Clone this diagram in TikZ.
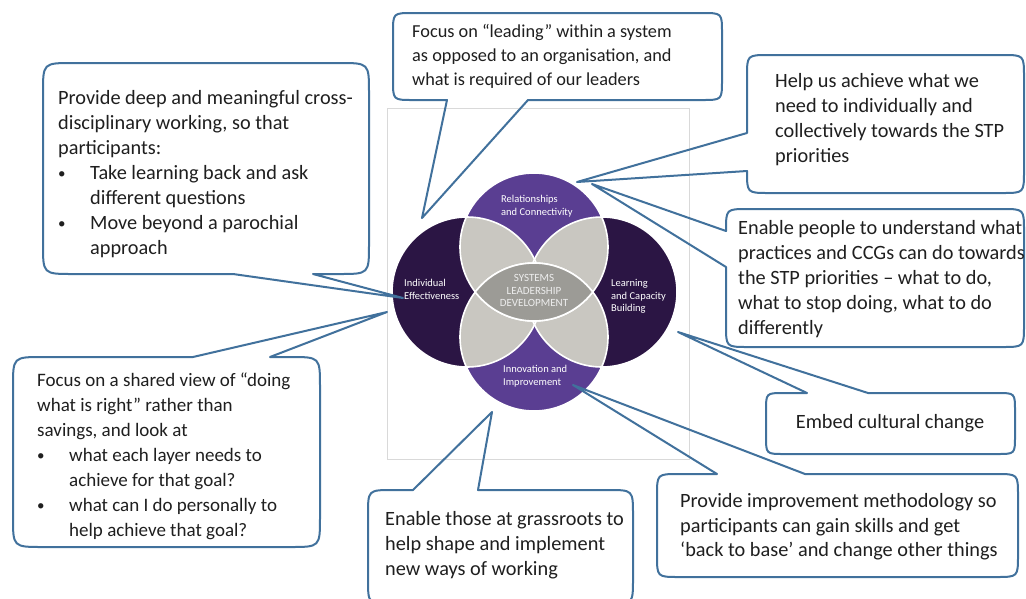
\documentclass[tikz,border=0pt]{standalone}
\usepackage{fontspec}
\setmainfont{Carlito}
\definecolor{cborder}{HTML}{41719C}
\definecolor{framec}{HTML}{D9D9D9}
\definecolor{darkp}{HTML}{2B1544}
\definecolor{purp}{HTML}{5A3E92}
\definecolor{petal}{HTML}{C9C7C1}
\definecolor{lensc}{HTML}{9C9B96}
\definecolor{txtc}{HTML}{1F1F1F}
\definecolor{lenstxt}{HTML}{EDEDED}
\tikzset{
  callout/.style={draw=cborder, line width=2pt, line join=round},
  txt/.style={anchor=north west, inner sep=0pt, align=left, text=txtc,
    font=\fontsize{20.3}{25}\selectfont},
  ctxt/.style={anchor=north west, inner sep=0pt, align=left, text=white,
    font=\fontsize{10.5}{12.5}\selectfont},
  outline/.style={draw=white, line width=1.6pt},
}
\newcommand{\bul}{\makebox[32pt][l]{\raisebox{1pt}{\fontsize{15}{15}\selectfont\textbullet}}}
\newcommand{\ind}{\hspace*{32pt}}
\begin{document}
\begin{tikzpicture}[x=1pt,y=-1pt]
\useasboundingbox (0,0) rectangle (1026,598);
\fill[white] (0,0) rectangle (1026,598);
\clip (0,0) rectangle (1026,598);

% frame of the diagram
\draw[framec, line width=1pt] (387,108) rectangle (689,459);

% circles
\def\CL{(467,292) circle[radius=75]}
\def\CR{(602,292) circle[radius=75]}
\def\CT{(534,247) circle[radius=74]}
\def\CB{(534,337) circle[radius=74]}
\fill[darkp] \CL;
\fill[darkp] \CR;
\fill[purp] \CT;
\fill[purp] \CB;
\begin{scope}\clip \CT; \fill[petal] \CL; \fill[petal] \CR; \end{scope}
\begin{scope}\clip \CB; \fill[petal] \CL; \fill[petal] \CR; \end{scope}
\draw[outline] \CL; \draw[outline] \CR; \draw[outline] \CT; \draw[outline] \CB;
\begin{scope}\clip \CT; \fill[lensc] \CB; \draw[outline] \CB; \end{scope}
\begin{scope}\clip \CB; \draw[outline] \CT; \end{scope}

% circle labels
\node[ctxt] (rel) at (501,193.6) {\strut Relationships\\and Connectivity};
\node[ctxt] (ind) at (404,277.6) {\strut Individual\\Effectiveness};
\node[ctxt] (lea) at (611,277.6) {\strut Learning\\and Capacity\\Building};
\node[ctxt] (inn) at (503,363.6) {\strut Innovation and\\Improvement};
\node[ctxt, anchor=north, align=center, text=lenstxt, font=\fontsize{11}{12.5}\selectfont] (sld) at (534,272.6)
  {\strut SYSTEMS\\LEADERSHIP\\DEVELOPMENT};

% tail tips
\coordinate (tA) at (403,298);
\coordinate (tB) at (422,218);
\coordinate (tC) at (577,182);
\coordinate (tD) at (592,184);
\coordinate (tE) at (678,332);
\coordinate (tF) at (387,312);
\coordinate (tG) at (492,412);
\coordinate (tH) at (573,385);

% callouts
\draw[callout] (73,63) -- (339,63) .. controls (369,63) .. (369,93) -- (369,244)
  .. controls (369,274) .. (339,274) -- (313,274) -- (tA) -- (233,274) -- (73,274)
  .. controls (43,274) .. (43,244) -- (43,93) .. controls (43,63) .. (73,63) -- cycle;
\draw[callout] (413,13) -- (702,13) .. controls (722,13) .. (722,33) -- (722,80)
  .. controls (722,100) .. (702,100) -- (528,100) -- (tB) -- (447,100) -- (413,100)
  .. controls (393,100) .. (393,80) -- (393,33) .. controls (393,13) .. (413,13) -- cycle;
\draw[callout] (769,55) -- (1002,55) .. controls (1024,55) .. (1024,77) -- (1024,171)
  .. controls (1024,193) .. (1002,193) -- (769,193) .. controls (747,193) .. (747,171)
  -- (tC) -- (747,133) -- (747,77) .. controls (747,55) .. (769,55) -- cycle;
\draw[callout] (748,209) -- (1002,209) .. controls (1024,209) .. (1024,231) -- (1024,325)
  .. controls (1024,347) .. (1002,347) -- (748,347) .. controls (726,347) .. (726,325)
  -- (726,267) -- (tD) -- (726,231) .. controls (726,209) .. (748,209) -- cycle;
\draw[callout] (784,393) -- (807,393) -- (tE) -- (868,393) -- (997,393)
  .. controls (1015,393) .. (1015,411) -- (1015,436) .. controls (1015,454) .. (997,454)
  -- (784,454) .. controls (766,454) .. (766,436) -- (766,411) .. controls (766,393) .. (784,393) -- cycle;
\draw[callout] (43,357) -- (193,357) -- (tF) -- (270,357) -- (290,357)
  .. controls (320,357) .. (320,387) -- (320,517) .. controls (320,547) .. (290,547)
  -- (43,547) .. controls (13,547) .. (13,517) -- (13,387) .. controls (13,357) .. (43,357) -- cycle;
\draw[callout] (393,490) -- (413,490) -- (tG) -- (478,490) -- (608,490)
  .. controls (633,490) .. (633,515) -- (633,579) .. controls (633,604) .. (608,604)
  -- (393,604) .. controls (368,604) .. (368,579) -- (368,515) .. controls (368,490) .. (393,490) -- cycle;
\draw[callout] (679,474) -- (717,474) -- (tH) -- (805,474) -- (996,474)
  .. controls (1018,474) .. (1018,496) -- (1018,555) .. controls (1018,577) .. (996,577)
  -- (679,577) .. controls (657,577) .. (657,555) -- (657,496) .. controls (657,474) .. (679,474) -- cycle;

% callout texts
\node[txt] (b1) at (58,87.2) {\strut Provide deep and meaningful cross-\\disciplinary working, so that\\participants:\\
  \bul Take learning back and ask\\\ind different questions\\\bul Move beyond a parochial\\\ind approach};
\node[txt, font=\fontsize{18.3}{24}\selectfont] (b2) at (412,20) {\strut Focus on “leading” within a system\\as opposed to an organisation, and\\what is required of our leaders};
\node[txt] (b3) at (775,70.2) {\strut Help us achieve what we\\need to individually and\\collectively towards the STP\\priorities};
\node[txt] (b4) at (738,217.2) {\strut Enable people to understand what\\practices and CCGs can do towards\\the STP priorities – what to do,\\what to stop doing, what to do\\differently};
\node[txt, anchor=center] (b5) at (890,423) {Embed cultural change};
\node[txt, font=\fontsize{19}{25}\selectfont] (b6) at (37,369) {\strut Focus on a shared view of “doing\\what is right” rather than\\savings, and look at\\
  \bul what each layer needs to\\\ind achieve for that goal?\\\bul what can I do personally to\\\ind help achieve that goal?};
\node[txt] (b7) at (385,508.2) {\strut Enable those at grassroots to\\help shape and implement\\new ways of working};
\node[txt, font=\fontsize{20.3}{24.5}\selectfont] (b8) at (680,490.2) {\strut Provide improvement methodology so\\participants can gain skills and get\\‘back to base’ and change other things};
\end{tikzpicture}
\end{document}
